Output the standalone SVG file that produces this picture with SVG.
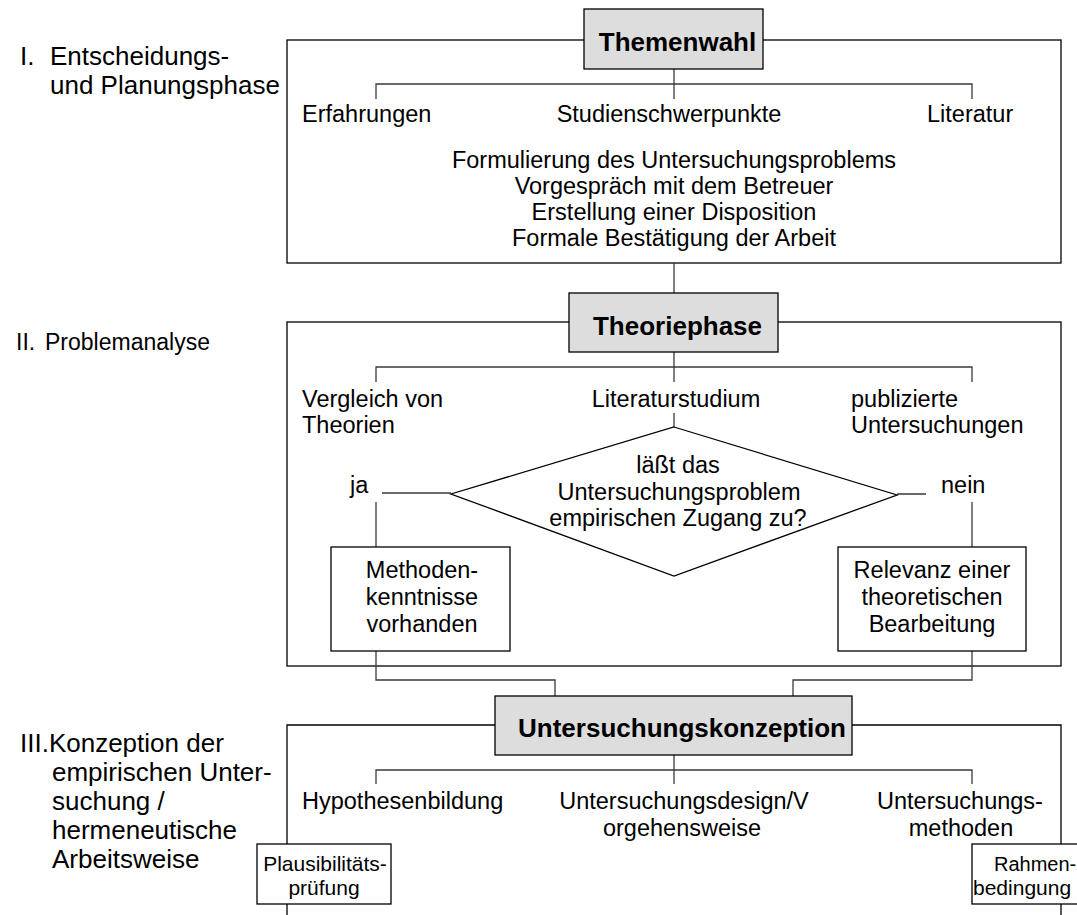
<svg xmlns="http://www.w3.org/2000/svg" width="1077" height="915" viewBox="0 0 1077 915">
<style>
text{font-family:"Liberation Sans",Arial,Helvetica,sans-serif;fill:#000}
.t{font-size:23.5px}
.c{text-anchor:middle}
.lab{font-size:26px}
.lab2{font-size:23px}
.hd{font-size:26px;font-weight:bold;text-anchor:middle}
.sm{font-size:21px}
.frame{fill:none;stroke:#000;stroke-width:1.3}
.head{fill:#dddddd;stroke:#000;stroke-width:1.3}
.box{fill:#fff;stroke:#000;stroke-width:1.3}
.con{fill:none;stroke:#3a3a3a;stroke-width:1.3}
</style>
<rect width="1077" height="915" fill="#fff"/>

<g id="phase-labels">
<text class="lab" x="20" y="65">I.</text>
<text class="lab" x="50" y="65">Entscheidungs-</text>
<text class="lab" x="50" y="94">und Planungsphase</text>
<text class="lab2" x="16" y="350">II.</text>
<text class="lab2" x="45" y="350">Problemanalyse</text>
<text class="lab" x="20" y="752">III.Konzeption der</text>
<text class="lab" x="52" y="781">empirischen Unter-</text>
<text class="lab" x="52" y="810">suchung /</text>
<text class="lab" x="52" y="839">hermeneutische</text>
<text class="lab" x="52" y="868">Arbeitsweise</text>
</g>

<g id="frames">
<rect class="frame" x="287" y="40" width="774" height="223"/>
<rect class="frame" x="287" y="322" width="774" height="344"/>
<path class="frame" d="M287,915 V725 H1061 V915"/>
</g>

<g id="connectors">
<path class="con" d="M376,99 V84 H972 V99 M674,69 V99"/>
<path class="con" d="M674,263 V293"/>
<path class="con" d="M376,382 V367 H972 V382 M674,352 V382"/>
<path class="con" d="M674,413 V427"/>
<path class="con" d="M382,493 H451 M376,502 V547"/>
<path class="con" d="M897,494 H926 M972,502 V547"/>
<path class="con" d="M376,651 V680 H555 V696"/>
<path class="con" d="M972,651 V680 H793 V696"/>
<path class="con" d="M376,784 V770 H972 V784 M674,755 V784"/>
</g>

<g id="themenwahl">
<rect class="head" x="584" y="9" width="179" height="60"/>
<text class="hd" x="677.5" y="51">Themenwahl</text>
</g>

<g id="phase1-items">
<text class="t" x="302" y="122">Erfahrungen</text>
<text class="t c" x="669" y="122">Studienschwerpunkte</text>
<text class="t" x="927" y="122">Literatur</text>
<text class="t c" x="674" y="168">Formulierung des Untersuchungsproblems</text>
<text class="t c" x="674" y="194">Vorgespräch mit dem Betreuer</text>
<text class="t c" x="674" y="220">Erstellung einer Disposition</text>
<text class="t c" x="674" y="246">Formale Bestätigung der Arbeit</text>
</g>

<g id="theoriephase">
<rect class="head" x="569" y="293" width="209" height="59"/>
<text class="hd" x="677.5" y="335">Theoriephase</text>
</g>

<g id="phase2-items">
<text class="t" x="302" y="407">Vergleich von</text>
<text class="t" x="302" y="433">Theorien</text>
<text class="t c" x="676" y="407">Literaturstudium</text>
<text class="t" x="851" y="407">publizierte</text>
<text class="t" x="851" y="433">Untersuchungen</text>
</g>

<g id="decision">
<polygon class="box" points="674,427 897,495 674,576 451,494"/>
<text class="t c" x="678" y="473">läßt das</text>
<text class="t c" x="679" y="500">Untersuchungsproblem</text>
<text class="t c" x="678" y="526">empirischen Zugang zu?</text>
</g>

<g id="label-ja"><text class="t" x="350" y="493">ja</text></g>
<g id="label-nein"><text class="t" x="941" y="493">nein</text></g>

<g id="methoden">
<rect class="box" x="331" y="547" width="179" height="104"/>
<text class="t c" x="422" y="578">Methoden-</text>
<text class="t c" x="422" y="605">kenntnisse</text>
<text class="t c" x="422" y="632">vorhanden</text>
</g>

<g id="relevanz">
<rect class="box" x="838" y="547" width="188" height="104"/>
<text class="t c" x="932" y="578">Relevanz einer</text>
<text class="t c" x="932" y="605">theoretischen</text>
<text class="t c" x="932" y="632">Bearbeitung</text>
</g>

<g id="untersuchungskonzeption">
<rect class="head" x="495" y="696" width="357" height="59"/>
<text class="hd" x="682" y="737">Untersuchungskonzeption</text>
</g>

<g id="phase3-items">
<text class="t" x="302" y="809">Hypothesenbildung</text>
<text class="t c" x="684" y="809">Untersuchungsdesign/V</text>
<text class="t c" x="682" y="836">orgehensweise</text>
<text class="t c" x="960" y="809">Untersuchungs-</text>
<text class="t c" x="961" y="836">methoden</text>
</g>

<g id="plausibilitaet">
<rect class="box" x="257" y="844" width="134" height="60"/>
<text class="sm c" x="325" y="871">Plausibilitäts-</text>
<text class="sm c" x="324" y="895">prüfung</text>
</g>

<g id="rahmen">
<rect class="box" x="972" y="844" width="134" height="60"/>
<text x="994" y="871" font-size="20">Rahmen-</text>
<text class="sm" x="973" y="895">bedingung</text>
</g>
</svg>
